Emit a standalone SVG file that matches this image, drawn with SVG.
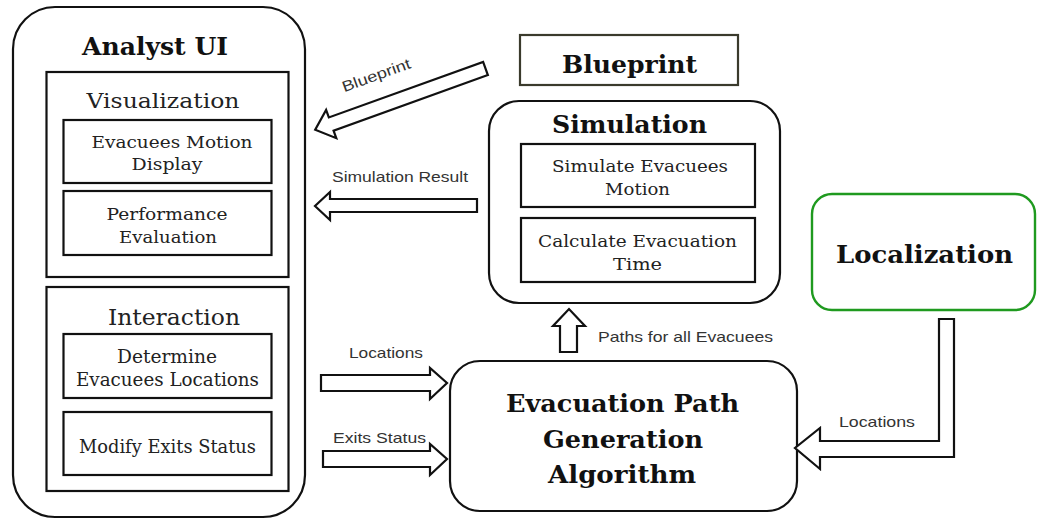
<svg xmlns="http://www.w3.org/2000/svg" width="1037" height="519" viewBox="0 0 1037 519">
<style>
.box{fill:#fff;stroke:#111;stroke-width:2.2}
.arr{fill:#fff;stroke:#111;stroke-width:2.2;stroke-linejoin:miter}
.t{font-family:"DejaVu Serif","Liberation Serif",serif;fill:#222;text-anchor:middle}
.b{font-family:"DejaVu Serif","Liberation Serif",serif;font-weight:bold;fill:#111;text-anchor:middle}
.s{font-family:"Liberation Sans",Arial,sans-serif;fill:#333;font-size:15px}
</style>
<rect width="1037" height="519" fill="#fff"/>
<g id="analyst-ui">
<rect class="box" x="13" y="7" width="292" height="510" rx="42"/>
<text class="b" x="155" y="55" font-size="24" textLength="146" lengthAdjust="spacingAndGlyphs">Analyst UI</text>
</g>
<g id="visualization">
<rect class="box" x="46.5" y="72" width="242" height="205"/>
<text class="t" x="163" y="108" font-size="20" textLength="153" lengthAdjust="spacingAndGlyphs">Visualization</text>
</g>
<g id="motion-display">
<rect class="box" x="63.5" y="120" width="208" height="63"/>
<text class="t" x="172" y="148" font-size="17" textLength="161" lengthAdjust="spacingAndGlyphs">Evacuees Motion</text>
<text class="t" x="167" y="170" font-size="17" textLength="71" lengthAdjust="spacingAndGlyphs">Display</text>
</g>
<g id="performance">
<rect class="box" x="63.5" y="191" width="208" height="64"/>
<text class="t" x="167" y="220" font-size="17" textLength="121" lengthAdjust="spacingAndGlyphs">Performance</text>
<text class="t" x="168" y="243" font-size="17" textLength="98" lengthAdjust="spacingAndGlyphs">Evaluation</text>
</g>
<g id="interaction">
<rect class="box" x="46.5" y="287" width="242" height="204"/>
<text class="t" x="174" y="325" font-size="22" textLength="132" lengthAdjust="spacingAndGlyphs">Interaction</text>
</g>
<g id="determine">
<rect class="box" x="63.5" y="334" width="208" height="64"/>
<text class="t" x="167" y="363" font-size="18" textLength="100" lengthAdjust="spacingAndGlyphs">Determine</text>
<text class="t" x="167.5" y="386" font-size="18" textLength="183" lengthAdjust="spacingAndGlyphs">Evacuees Locations</text>
</g>
<g id="modify">
<rect class="box" x="63.5" y="412" width="208" height="63"/>
<text class="t" x="167.5" y="453" font-size="18" textLength="177" lengthAdjust="spacingAndGlyphs">Modify Exits Status</text>
</g>
<g id="blueprint">
<rect x="520" y="35" width="218" height="50" fill="#fff" stroke="#3a3a2c" stroke-width="2.2"/>
<text class="b" x="629.5" y="73" font-size="24" textLength="135" lengthAdjust="spacingAndGlyphs">Blueprint</text>
</g>
<g id="simulation">
<rect class="box" x="489" y="101" width="291" height="202" rx="30"/>
<text class="b" x="629.5" y="133" font-size="24" textLength="155" lengthAdjust="spacingAndGlyphs">Simulation</text>
</g>
<g id="simulate-motion">
<rect class="box" x="521" y="144" width="234" height="63"/>
<text class="t" x="640" y="172" font-size="17" textLength="176" lengthAdjust="spacingAndGlyphs">Simulate Evacuees</text>
<text class="t" x="637.5" y="195" font-size="17" textLength="65" lengthAdjust="spacingAndGlyphs">Motion</text>
</g>
<g id="calc-time">
<rect class="box" x="521" y="218" width="234" height="64"/>
<text class="t" x="637.5" y="247" font-size="17" textLength="199" lengthAdjust="spacingAndGlyphs">Calculate Evacuation</text>
<text class="t" x="637.5" y="270" font-size="17" textLength="49" lengthAdjust="spacingAndGlyphs">Time</text>
</g>
<g id="path-generation">
<rect class="box" x="450" y="361" width="347" height="150" rx="30"/>
<text class="b" x="622.5" y="412" font-size="24" textLength="233" lengthAdjust="spacingAndGlyphs">Evacuation Path</text>
<text class="b" x="623" y="448" font-size="24" textLength="160" lengthAdjust="spacingAndGlyphs">Generation</text>
<text class="b" x="622" y="483" font-size="24" textLength="148" lengthAdjust="spacingAndGlyphs">Algorithm</text>
</g>
<g id="localization">
<rect x="812" y="194" width="223" height="116" rx="20" fill="#fff" stroke="#1f9a1f" stroke-width="2.4"/>
<text class="b" x="924.5" y="263" font-size="24" textLength="177" lengthAdjust="spacingAndGlyphs">Localization</text>
</g>
<g id="connectors">
<polygon class="arr" transform="translate(485.5,68.5) rotate(160.2)" points="0,-7 164,-7 164,-15 181,0 164,15 164,7 0,7"/>
<text class="s" transform="translate(378,80) rotate(-20)" text-anchor="middle" font-size="14" textLength="72" lengthAdjust="spacingAndGlyphs">Blueprint</text>
<polygon class="arr" points="477,199 330,199 330,192 315,206 330,220 330,212 477,212"/>
<text class="s" x="400" y="182" text-anchor="middle" textLength="136" lengthAdjust="spacingAndGlyphs">Simulation Result</text>
<polygon class="arr" points="560,352 560,326 553,326 569,309 585,326 577,326 577,352"/>
<text class="s" x="598" y="342" textLength="175" lengthAdjust="spacingAndGlyphs">Paths for all Evacuees</text>
<polygon class="arr" points="321,375 430,375 430,368 447,383 430,399 430,391 321,391"/>
<text class="s" x="386" y="358" text-anchor="middle" textLength="74" lengthAdjust="spacingAndGlyphs">Locations</text>
<polygon class="arr" points="323,451 430,451 430,444 447,459 430,475 430,467 323,467"/>
<text class="s" x="333" y="443" textLength="93" lengthAdjust="spacingAndGlyphs">Exits Status</text>
<polygon class="arr" points="954,319 954,457 820,457 820,469 795,448 820,428 820,441 939,441 939,319"/>
<text class="s" x="877" y="427" text-anchor="middle" textLength="76" lengthAdjust="spacingAndGlyphs">Locations</text>
</g>
</svg>
